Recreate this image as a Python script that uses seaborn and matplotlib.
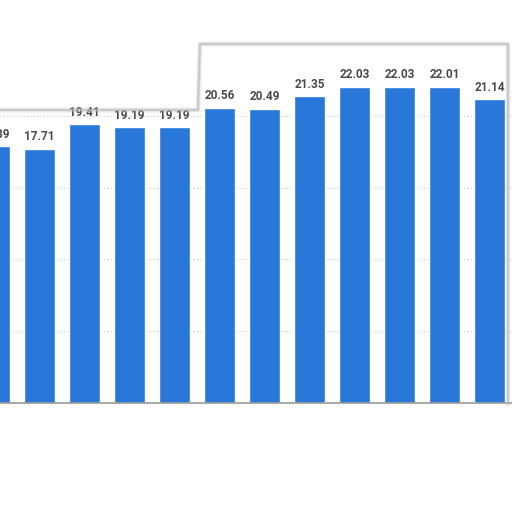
import pandas as pd
import seaborn as sns
import matplotlib.pyplot as plt

categories = ["c01", "c02", "c03", "c04", "c05", "c06",
              "c07", "c08", "c09", "c10", "c11", "c12"]
values = [17.89, 17.71, 19.41, 19.19, 19.19, 20.56,
          20.49, 21.35, 22.03, 22.03, 22.01, 21.14]

df = pd.DataFrame({"cat": categories, "val": values})

sns.set_theme(style="white")
plt.rcParams["font.family"] = ["Roboto", "DejaVu Sans"]
fig = plt.figure(figsize=(5.12, 5.12), dpi=100)
ax = fig.add_axes([0, 109 / 512, 1, 359 / 512])

sns.barplot(data=df, x="cat", y="val", color="#2a77da", saturation=1,
            width=0.69, ax=ax)

ax.set_xlim(0.122, 11.5)
ax.set_ylim(0, 25)
ax.set_yticks([5, 10, 15, 20])
ax.yaxis.grid(True, color="#cccccc", linestyle=(0, (1, 2)), linewidth=0.8)
ax.set_axisbelow(True)
ax.set_xlabel("")
ax.set_ylabel("")
ax.set_xticklabels([])
ax.set_yticklabels([])
ax.tick_params(length=0)
for s in ["top", "left", "right"]:
    ax.spines[s].set_visible(False)
ax.spines["bottom"].set_color("#9a9a9a")
ax.spines["bottom"].set_linewidth(1.2)

for c in ax.containers:
    labels = ax.bar_label(c, fmt="%.2f", padding=4, fontsize=8.5,
                          fontweight="bold", color="#4a4a4a")
    for t in labels:
        t.set_annotation_clip(False)

# faint panel outline (shadow) over the top of the chart
xs = [0, 198 / 512, 200 / 512, 508 / 512, 508 / 512]
ys = [1 - 110 / 512, 1 - 110 / 512, 1 - 44 / 512, 1 - 44 / 512, 1 - 404 / 512]
for lw, a in [(4, 0.15), (2.5, 0.3), (1.2, 0.6)]:
    fig.add_artist(plt.Line2D(xs, ys, transform=fig.transFigure,
                              color="#b5b5b5", linewidth=lw, alpha=a))

fig.savefig("out.png", dpi=100)
